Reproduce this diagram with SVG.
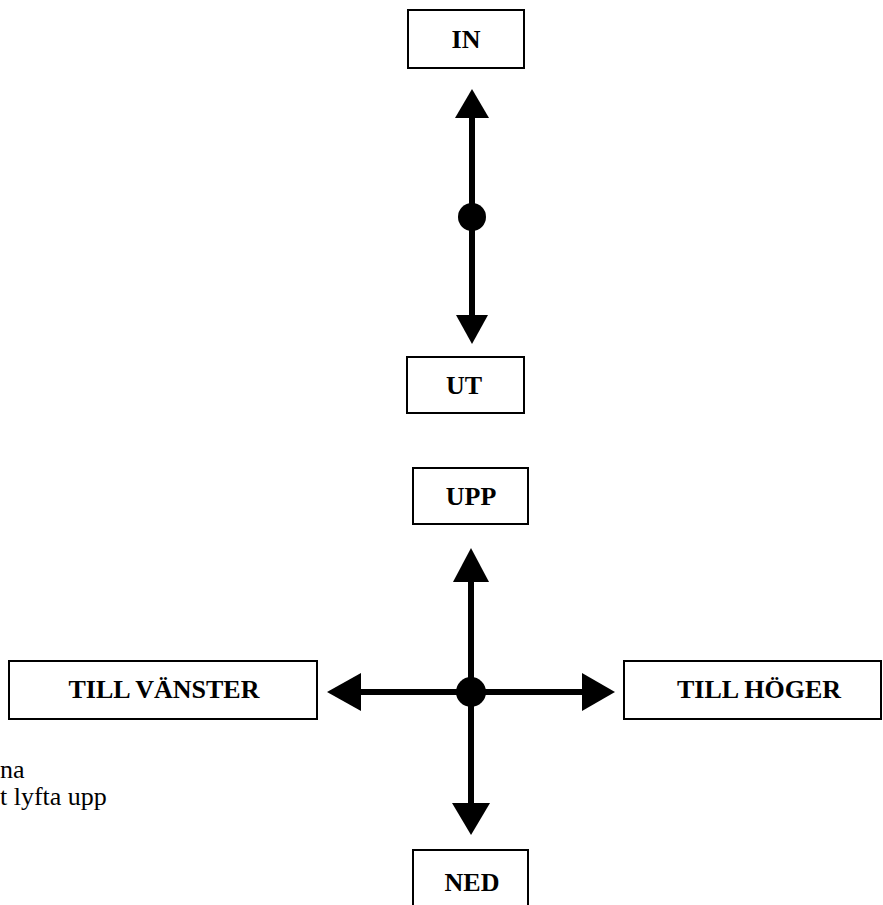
<svg xmlns="http://www.w3.org/2000/svg" width="883" height="905" viewBox="0 0 883 905">
<style>
.box{fill:#fff;stroke:#000;stroke-width:2}
.lbl{font-family:"Liberation Serif","Times New Roman",serif;font-weight:bold;font-size:26px;fill:#000;text-anchor:middle}
.txt{font-family:"Liberation Serif","Times New Roman",serif;font-size:26px;fill:#000}
.shaft{stroke:#000;stroke-width:6;fill:none}
.head{fill:#000}
.dot{fill:#000}
</style>
<rect width="883" height="905" fill="#fff"/>
<g id="connectors">
<line class="shaft" x1="472" y1="116" x2="472" y2="317"/>
<polygon class="head" points="472,89 455,118 489,118"/>
<polygon class="head" points="456,315 488,315 472,344"/>
<circle class="dot" cx="472" cy="217" r="14"/>
<line class="shaft" x1="471" y1="580" x2="471" y2="805"/>
<line class="shaft" x1="359" y1="692" x2="584" y2="692"/>
<polygon class="head" points="471,548 453,582 489,582"/>
<polygon class="head" points="452,803 490,803 471,835"/>
<polygon class="head" points="327,692 361,673 361,711"/>
<polygon class="head" points="582,673 582,711 615,692"/>
<circle class="dot" cx="471" cy="692" r="15"/>
</g>
<g id="node-in"><rect class="box" x="408" y="10" width="116" height="58"/><text class="lbl" x="466" y="48">IN</text></g>
<g id="node-ut"><rect class="box" x="407" y="357" width="117" height="56"/><text class="lbl" x="464" y="394">UT</text></g>
<g id="node-upp"><rect class="box" x="413" y="468" width="115" height="56"/><text class="lbl" x="471" y="505">UPP</text></g>
<g id="node-vanster"><rect class="box" x="9" y="661" width="308" height="58"/><text class="lbl" x="164" y="698">TILL VÄNSTER</text></g>
<g id="node-hoger"><rect class="box" x="624" y="661" width="257" height="58"/><text class="lbl" x="759" y="698">TILL HÖGER</text></g>
<g id="node-ned"><rect class="box" x="413" y="850" width="115" height="70"/><text class="lbl" x="472" y="891">NED</text></g>
<g id="side-text">
<text class="txt" x="0" y="778">na</text>
<text class="txt" x="0" y="805">t lyfta upp</text>
</g>
</svg>
